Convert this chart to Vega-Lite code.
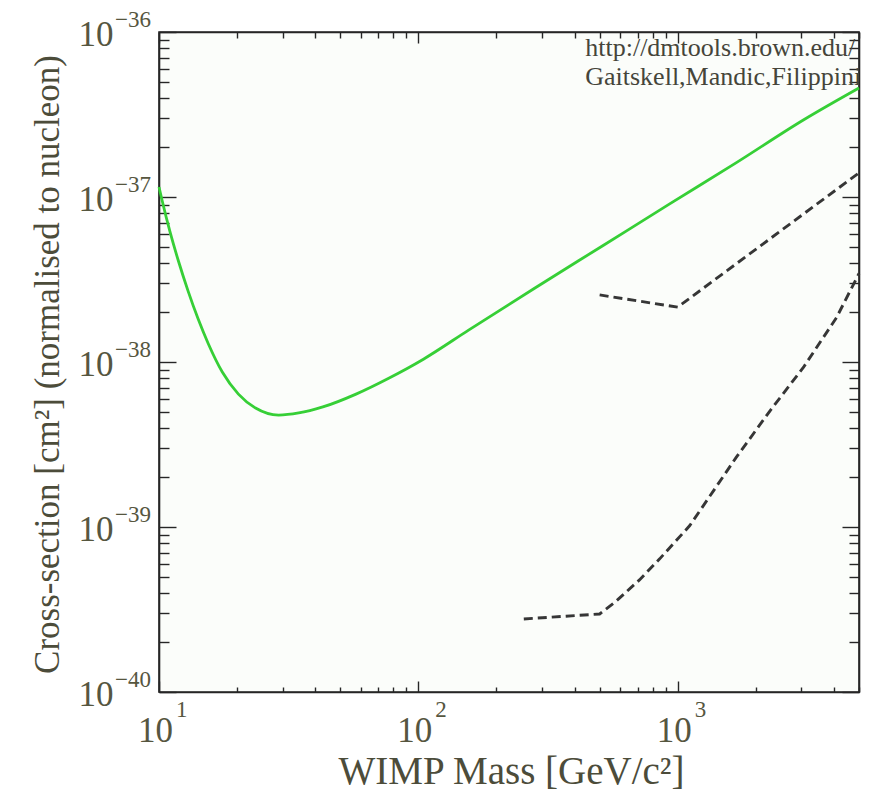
{
  "$schema": "https://vega.github.io/schema/vega-lite/v6.json",
  "width": 700,
  "height": 660,
  "autosize": {"type": "none"},
  "padding": {"left": 159, "top": 32, "right": 18, "bottom": 99},
  "background": "#ffffff",
  "config": {
    "font": "Liberation Serif",
    "view": {"fill": "#fbfdfa", "stroke": "#262626", "strokeWidth": 1.6},
    "axis": {
      "grid": false,
      "domainColor": "#262626",
      "domainWidth": 1.6,
      "tickColor": "#262626",
      "tickWidth": 1.4,
      "labelFont": "Liberation Serif",
      "titleFont": "Liberation Serif",
      "labelColor": "#56563f",
      "titleColor": "#4c4c3a",
      "titleFontWeight": "normal",
      "labelOverlap": false,
      "labelFlush": false
    }
  },
  "datasets": {
    "limit": [
      {"mass": 10, "sigma": 1.15e-37},
      {"mass": 10.27, "sigma": 9.59e-38},
      {"mass": 11.03, "sigma": 6.14e-38},
      {"mass": 11.85, "sigma": 4.15e-38},
      {"mass": 12.95, "sigma": 2.69e-38},
      {"mass": 14.16, "sigma": 1.82e-38},
      {"mass": 15.49, "sigma": 1.29e-38},
      {"mass": 17.54, "sigma": 8.69e-39},
      {"mass": 20.24, "sigma": 6.39e-39},
      {"mass": 23.56, "sigma": 5.26e-39},
      {"mass": 28.93, "sigma": 4.77e-39},
      {"mass": 34.58, "sigma": 4.91e-39},
      {"mass": 42.83, "sigma": 5.34e-39},
      {"mass": 57.5, "sigma": 6.39e-39},
      {"mass": 77.2, "sigma": 8.0e-39},
      {"mass": 104.6, "sigma": 1.04e-38},
      {"mass": 156.2, "sigma": 1.56e-38},
      {"mass": 281.6, "sigma": 2.81e-38},
      {"mass": 512.1, "sigma": 5.05e-38},
      {"mass": 931.1, "sigma": 9.08e-38},
      {"mass": 1678, "sigma": 1.61e-37},
      {"mass": 3051, "sigma": 2.93e-37},
      {"mass": 5000, "sigma": 4.58e-37}
    ],
    "projected": [
      {"curve": "upper", "mass": 500, "sigma": 2.55e-38},
      {"curve": "upper", "mass": 1000, "sigma": 2.15e-38},
      {"curve": "upper", "mass": 5000, "sigma": 1.4e-37},
      {"curve": "lower", "mass": 255, "sigma": 2.77e-40},
      {"curve": "lower", "mass": 500, "sigma": 2.97e-40},
      {"curve": "lower", "mass": 575, "sigma": 3.52e-40},
      {"curve": "lower", "mass": 712, "sigma": 4.78e-40},
      {"curve": "lower", "mass": 852, "sigma": 6.41e-40},
      {"curve": "lower", "mass": 1113, "sigma": 1.02e-39},
      {"curve": "lower", "mass": 1678, "sigma": 2.63e-39},
      {"curve": "lower", "mass": 2273, "sigma": 5.08e-39},
      {"curve": "lower", "mass": 3051, "sigma": 9.27e-39},
      {"curve": "lower", "mass": 4096, "sigma": 1.86e-38},
      {"curve": "lower", "mass": 5000, "sigma": 3.44e-38}
    ],
    "yExponents": [
      {"sigma": 1e-36, "exp": "−36"},
      {"sigma": 1e-37, "exp": "−37"},
      {"sigma": 1e-38, "exp": "−38"},
      {"sigma": 1e-39, "exp": "−39"},
      {"sigma": 1e-40, "exp": "−40"}
    ],
    "xExponents": [
      {"mass": 10, "exp": "1"},
      {"mass": 100, "exp": "2"},
      {"mass": 1000, "exp": "3"}
    ]
  },
  "resolve": {
    "scale": {"x": "shared", "y": "shared"},
    "axis": {"x": "independent", "y": "independent"}
  },
  "layer": [
    {
      "data": {"name": "limit"},
      "mark": {"type": "line", "color": "#36cf36", "strokeWidth": 2.8, "interpolate": "monotone"},
      "encoding": {
        "x": {
          "field": "mass",
          "type": "quantitative",
          "scale": {"type": "log", "domain": [10, 5000], "nice": false},
          "axis": {
            "orient": "bottom",
            "values": [10, 20, 30, 40, 50, 60, 70, 80, 90, 100, 200, 300, 400, 500, 600, 700, 800, 900, 1000, 2000, 3000, 4000, 5000],
            "labelExpr": "datum.value == 10 || datum.value == 100 || datum.value == 1000 ? '10' : ''",
            "tickSize": {"condition": {"test": "datum.value == 10 || datum.value == 100 || datum.value == 1000", "value": -11}, "value": -5},
            "labelPadding": 32,
            "labelOffset": -4,
            "labelFontSize": 35,
            "labelBaseline": "top",
            "title": "WIMP Mass [GeV/c²]",
            "titleFontSize": 39,
            "titleX": 352,
            "titleY": 91,
            "titleBaseline": "alphabetic",
            "titleAlign": "center"
          }
        },
        "y": {
          "field": "sigma",
          "type": "quantitative",
          "scale": {"type": "log", "domain": [1e-40, 1e-36], "nice": false},
          "axis": {
            "orient": "left",
            "values": [1e-40, 2e-40, 3e-40, 4e-40, 5e-40, 6e-40, 7e-40, 8e-40, 9e-40, 1e-39, 2e-39, 3e-39, 4e-39, 5e-39, 6e-39, 7e-39, 8e-39, 9e-39, 1e-38, 2e-38, 3e-38, 4e-38, 5e-38, 6e-38, 7e-38, 8e-38, 9e-38, 1e-37, 2e-37, 3e-37, 4e-37, 5e-37, 6e-37, 7e-37, 8e-37, 9e-37, 1e-36],
            "labelExpr": "datum.value == 1e-36 || datum.value == 1e-37 || datum.value == 1e-38 || datum.value == 1e-39 || datum.value == 1e-40 ? '10' : ''",
            "tickSize": {"condition": {"test": "datum.value == 1e-36 || datum.value == 1e-37 || datum.value == 1e-38 || datum.value == 1e-39 || datum.value == 1e-40", "value": -17}, "value": -10},
            "labelPadding": 63,
            "labelOffset": 2,
            "labelFontSize": 35,
            "labelAlign": "right",
            "labelBaseline": "middle",
            "title": "Cross-section [cm²] (normalised to nucleon)",
            "titleFontSize": 35,
            "titleX": -112,
            "titleY": 332,
            "titleAngle": -90,
            "titleBaseline": "middle",
            "titleAlign": "center"
          }
        }
      }
    },
    {
      "data": {"name": "projected"},
      "mark": {"type": "line", "color": "#363636", "strokeWidth": 2.9, "strokeDash": [9, 5]},
      "encoding": {
        "x": {
          "field": "mass",
          "type": "quantitative",
          "axis": {
            "orient": "top",
            "values": [10, 20, 30, 40, 50, 60, 70, 80, 90, 100, 200, 300, 400, 500, 600, 700, 800, 900, 1000, 2000, 3000, 4000, 5000],
            "labels": false,
            "title": null,
            "tickSize": {"condition": {"test": "datum.value == 10 || datum.value == 100 || datum.value == 1000", "value": -11}, "value": -6}
          }
        },
        "y": {
          "field": "sigma",
          "type": "quantitative",
          "axis": {
            "orient": "right",
            "values": [1e-40, 2e-40, 3e-40, 4e-40, 5e-40, 6e-40, 7e-40, 8e-40, 9e-40, 1e-39, 2e-39, 3e-39, 4e-39, 5e-39, 6e-39, 7e-39, 8e-39, 9e-39, 1e-38, 2e-38, 3e-38, 4e-38, 5e-38, 6e-38, 7e-38, 8e-38, 9e-38, 1e-37, 2e-37, 3e-37, 4e-37, 5e-37, 6e-37, 7e-37, 8e-37, 9e-37, 1e-36],
            "labels": false,
            "title": null,
            "tickSize": {"condition": {"test": "datum.value == 1e-36 || datum.value == 1e-37 || datum.value == 1e-38 || datum.value == 1e-39 || datum.value == 1e-40", "value": -17}, "value": -10}
          }
        },
        "detail": {"field": "curve", "type": "nominal"}
      }
    },
    {
      "data": {"name": "yExponents"},
      "mark": {"type": "text", "align": "left", "baseline": "middle", "dx": -44, "dy": -12, "font": "Liberation Serif", "fontSize": 23, "color": "#56563f"},
      "encoding": {
        "x": {"datum": 10, "type": "quantitative", "axis": null},
        "y": {"field": "sigma", "type": "quantitative", "axis": null},
        "text": {"field": "exp", "type": "nominal"}
      }
    },
    {
      "data": {"name": "xExponents"},
      "mark": {"type": "text", "align": "left", "baseline": "middle", "dx": 17, "dy": 18, "font": "Liberation Serif", "fontSize": 23, "color": "#56563f"},
      "encoding": {
        "x": {"field": "mass", "type": "quantitative", "axis": null},
        "y": {"datum": 1e-40, "type": "quantitative", "axis": null},
        "text": {"field": "exp", "type": "nominal"}
      }
    },
    {
      "data": {"values": [{"credit": "http://dmtools.brown.edu/\nGaitskell,Mandic,Filippini"}]},
      "mark": {
        "type": "text",
        "align": "left",
        "baseline": "top",
        "dy": 3,
        "lineBreak": "\n",
        "lineHeight": 29,
        "font": "Liberation Serif",
        "fontSize": 26,
        "color": "#45453a",
        "clip": true
      },
      "encoding": {
        "x": {"datum": 440, "type": "quantitative", "axis": null},
        "y": {"datum": 1e-36, "type": "quantitative", "axis": null},
        "text": {"field": "credit", "type": "nominal"}
      }
    }
  ]
}
